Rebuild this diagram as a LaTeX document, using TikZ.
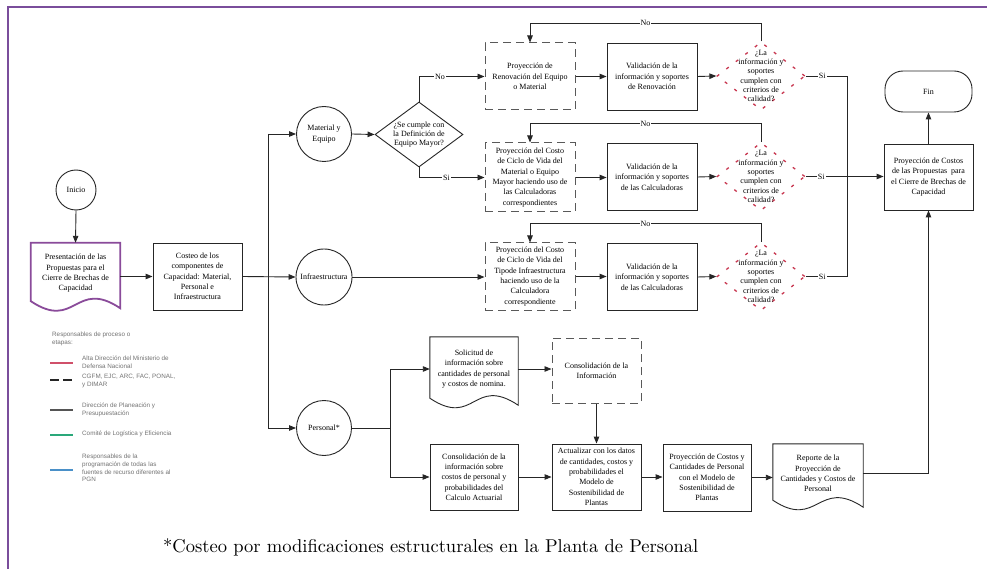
\documentclass[tikz,border=0pt]{standalone}
\usepackage{fontspec}
\usepackage{graphicx}
\usetikzlibrary{arrows.meta,shapes.geometric,calc}
\newfontfamily\boxfont{Liberation Serif}
\newfontfamily\legfont{Liberation Sans}
\definecolor{framec}{HTML}{7A4D9B}
\definecolor{presc}{HTML}{8A4B9A}
\definecolor{qred}{HTML}{C8364F}
\definecolor{legred}{HTML}{D0506A}
\definecolor{leggray}{HTML}{555555}
\definecolor{leggreen}{HTML}{2AA87A}
\definecolor{legblue}{HTML}{4A90C8}

% document symbol: flat top, wavy bottom
\newcommand{\docshape}[2][]{%
  \draw[docline,#1] (#2.north west) -- (#2.north east) -- ($(#2.south east)+(0,4)$)
    .. controls +(-45,-30) and +(45,30) .. ($(#2.south west)+(0,-3)$) -- cycle;}

\begin{document}
\begin{tikzpicture}[x=1pt,y=-1pt,
  base/.style={font=\boxfont\fontsize{8}{10.3}\selectfont, align=center, inner sep=1pt},
  box/.style={base, draw=black!85, line width=0.9pt, rectangle},
  dbox/.style={box, draw=black!65, dash pattern=on 8pt off 5pt, line width=1pt},
  circ/.style={base, circle, draw=black!85, line width=0.9pt},
  docn/.style={base},
  docline/.style={draw=black!85, line width=0.9pt},
  dec/.style={diamond, draw=black!85, line width=0.9pt, inner sep=0pt, minimum width=88pt, minimum height=65pt},
  qd/.style={diamond, draw=qred, line width=1.3pt, dash pattern=on 3pt off 9pt, inner sep=0pt, minimum width=88pt, minimum height=68pt},
  dtext/.style={font=\boxfont\fontsize{8}{9.3}\selectfont, align=center, inner sep=0pt},
  ln/.style={draw=black!85, line width=0.9pt},
  arr/.style={ln, -{Triangle[length=7pt,width=5.5pt]}},
  lbl/.style={fill=white, inner sep=1pt, font=\boxfont\fontsize{8}{9}\selectfont},
  leg/.style={font=\legfont\fontsize{6.3}{7.6}\selectfont, text=black!55, align=left, anchor=west, inner sep=0pt},
  legline/.style={line width=1.6pt},
]
\useasboundingbox (0,0) rectangle (987,569);
\fill[white] (0,0) rectangle (987,569);

% outer frame
\draw[framec, line width=1.6pt] (8,569) -- (8,7) -- (987,7);

% ---- start and entry
\node[circ, minimum size=40pt] (inicio) at (76,190) {Inicio};
\node[docn, minimum width=89pt, minimum height=61pt] (pres) at (75.5,273.5)
  {Presentación de las\\Propuestas para el\\Cierre de Brechas de\\Capacidad};
\docshape[draw=presc, line width=1.8pt]{pres}
\node[box, minimum width=89pt, minimum height=67pt] (cost) at (197.5,276.5)
  {Costeo de los\\componentes de\\Capacidad: Material,\\Personal e\\Infraestructura};

% ---- components
\node[circ, minimum size=55pt] (mat) at (324,134) {Material y\\Equipo};
\node[circ, minimum size=56pt] (inf) at (324,277) {Infraestructura};
\node[circ, minimum size=55pt] (pers) at (324,428) {Personal*};
\coordinate (tr) at (268,277);

% ---- material branch
\node[dec] (dec) at (419,134.5) {};
\node[dtext] (dect) at (dec) {¿Se cumple con\\la Definición de\\Equipo Mayor?};

\node[dbox, minimum width=90pt, minimum height=67pt] (r1) at (530,76.5)
  {Proyección de\\Renovación del Equipo\\o Material};
\node[dbox, minimum width=90pt, minimum height=69pt] (r2) at (530,177.5)
  {Proyección del Costo\\de Ciclo de Vida del\\Material o Equipo\\Mayor haciendo uso de\\las Calculadoras\\correspondientes};
\node[dbox, minimum width=90pt, minimum height=67pt] (r3) at (530,276.5)
  {Proyección del Costo\\de Ciclo de Vida del\\Tipode Infraestructura\\haciendo uso de la\\Calculadora\\correspondiente};

\node[box, minimum width=90pt, minimum height=67pt] (v1) at (652,76.5)
  {Validación de la\\información y soportes\\de Renovación};
\node[box, minimum width=90pt, minimum height=67pt] (v2) at (652,177)
  {Validación de la\\información y soportes\\de las Calculadoras};
\node[box, minimum width=90pt, minimum height=67pt] (v3) at (652,277)
  {Validación de la\\información y soportes\\de las Calculadoras};

\node[qd] (q1) at (761,76) {};
\node[dtext] (q1t) at (q1) {¿La\\información y\\soportes\\cumplen con\\criterios de\\calidad?};
\node[qd] (q2) at (761,176.5) {};
\node[dtext] (q2t) at (q2) {¿La\\información y\\soportes\\cumplen con\\criterios de\\calidad?};
\node[qd] (q3) at (761,276.5) {};
\node[dtext] (q3t) at (q3) {¿La\\información y\\soportes\\cumplen con\\criterios de\\calidad?};

\node[box, minimum width=89pt, minimum height=66pt] (fbox) at (928.5,177)
  {Proyección de Costos\\de las Propuestas\ \ para\\el Cierre de Brechas de\\Capacidad};
\node[box, rounded corners=18pt, minimum width=87pt, minimum height=41pt] (fin) at (928.5,91.5) {Fin};
\coordinate (bus) at (847,176.5);

% ---- personnel branch
\coordinate (pj) at (390,428);
\node[docn, minimum width=88pt, minimum height=64pt] (sol) at (474,369)
  {Solicitud de\\información sobre\\cantidades de personal\\y costos de nomina.};
\docshape{sol}
\node[dbox, minimum width=89pt, minimum height=65pt] (cinfo) at (596.5,370.5)
  {Consolidación de la\\Información};
\node[box, minimum width=88pt, minimum height=66pt] (cons) at (474,477)
  {Consolidación de la\\información sobre\\costos de personal y\\probabilidades del\\Calculo Actuarial};
\node[box, minimum width=89pt, minimum height=66pt] (act) at (596.5,477)
  {Actualizar con los datos\\de cantidades, costos y\\probabilidades el\\Modelo de\\Sostenibilidad de\\Plantas};
\node[box, minimum width=88pt, minimum height=67pt] (proj) at (707,477.5)
  {Proyección de Costos y\\Cantidades de Personal\\con el Modelo de\\Sostenibilidad de\\Plantas};
\node[docn, minimum width=90pt, minimum height=59pt] (rep) at (818,473.5)
  {Reporte de la\\Proyección de\\Cantidades y Costos de\\Personal};
\docshape{rep}

% ---- connectors
\draw[arr] (inicio.south) -- (pres.north);
\draw[arr] (cost.west -| pres.east) -- (cost.west);
\draw[ln] (tr |- mat.west) -- (tr |- pers.west);
\draw[arr] (cost.east) -- (inf.west);
\draw[arr] (tr |- mat.west) -- (mat.west);
\draw[arr] (tr |- pers.west) -- (pers.west);

\draw[arr] (mat.east) -- (dec.west);
\draw[arr] (dec.north) |- node[lbl, pos=0.66] {No} (r1.west);
\draw[arr] (dec.south) |- node[lbl, pos=0.71] {Si} (r2.west);
\draw[arr] (inf.east) -- (inf.east -| r3.west);

\draw[arr] (r1.east) -- (v1.west);
\draw[arr] (r2.east) -- (r2.east -| v2.west);
\draw[arr] (r3.east) -- (r3.east -| v3.west);
\draw[arr] (v1.east) -- (q1.west);
\draw[arr] (v2.east) -- (q2.west);
\draw[arr] (v3.east) -- (q3.west);

\draw[arr] (q1.north) -- ++(0,-18) -| node[lbl, pos=0.25] {No} (r1.north);
\draw[arr] (q2.north) -- ++(0,-18) -| node[lbl, pos=0.25] {No} (r2.north);
\draw[arr] (q3.north) -- ++(0,-18) -| node[lbl, pos=0.25] {No} (r3.north);

\draw[ln] (q1.east) -| node[lbl, pos=0.2] {Si} (bus);
\draw[ln] (q3.east) -| node[lbl, pos=0.2] {Si} (bus);
\draw[arr] (q2.east) -- node[lbl, pos=0.2] {Si} (q2.east -| fbox.west);
\draw[arr] (fbox.north) -- (fin.south);

\draw[ln] (pers.east) -- (pj);
\draw[arr] (pj) |- (sol.west);
\draw[arr] (pj) |- (cons.west);
\draw[arr] (sol.east) -- (sol.east -| cinfo.west);
\draw[arr] (cinfo.south) -- (act.north);
\draw[arr] (cons.east) -- (act.west);
\draw[arr] (act.east) -- (act.east -| proj.west);
\draw[arr] (proj.east) -- (proj.east -| rep.west);
\draw[arr] (rep.east) -| (fbox.south);

% ---- legend
\node[leg] (legt) at (52,339) {Responsables de proceso o\\etapas:};
\draw[legline, legred] (50,363) -- (73,363);
\node[leg] (leg1) at (82,362) {Alta Dirección del Ministerio de\\Defensa Nacional};
\draw[black!85, line width=1.1pt, dash pattern=on 9pt off 4pt] (50,380) -- (73,380);
\node[leg] (leg2) at (82,381) {CGFM, EJC, ARC, FAC, PONAL,\\y DIMAR};
\draw[legline, leggray] (50,410) -- (73,410);
\node[leg] (leg3) at (82,410) {Dirección de Planeación y\\Presupuestación};
\draw[legline, leggreen] (50,435) -- (73,435);
\node[leg] (leg4) at (82,434) {Comité de Logística y Eficiencia};
\draw[legline, legblue] (50,470) -- (73,470);
\node[leg] (leg5) at (82,468) {Responsables de la\\programación de todas las\\fuentes de recurso diferentes al\\PGN};

% ---- footnote
\node[anchor=base west, inner sep=0pt] (note) at (163,552)
  {\resizebox{535pt}{!}{*Costeo por modificaciones estructurales en la Planta de Personal}};
\end{tikzpicture}
\end{document}
